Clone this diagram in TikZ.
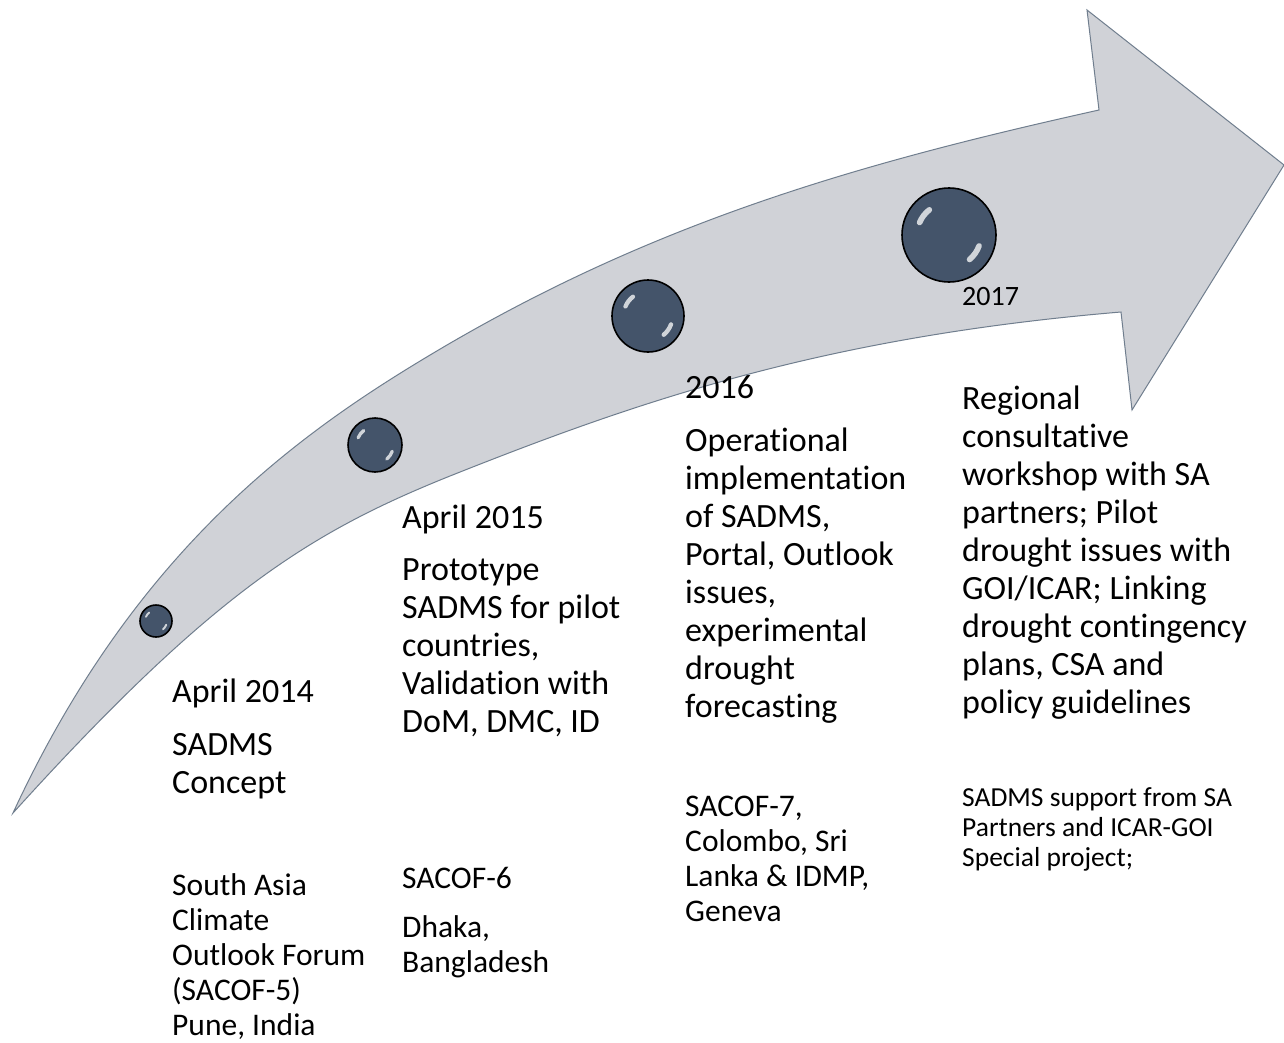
\documentclass[tikz,border=0pt]{standalone}
\usepackage{fontspec}
\setmainfont{Carlito}[Ligatures=NoCommon]

\definecolor{bandfill}{RGB}{208,210,215}
\definecolor{bandline}{RGB}{112,126,142}
\definecolor{beadcore}{RGB}{68,84,106}
\definecolor{beadrim}{RGB}{150,160,174}

\pgfdeclareradialshading{beadshade}{\pgfpoint{0bp}{0bp}}{%
  color(0bp)=(beadcore); color(36bp)=(beadcore); color(50bp)=(beadrim)}

% left-aligned block of lines whose baseline is the first line
\newcommand\lines[1]{\vtop{\halign{##\hfil\cr#1\crcr}}}

\tikzset{
  band/.style={fill=bandfill, draw=bandline, line width=1pt, line join=miter},
  bead/.style={circle, draw=black, line width=1.6pt, shade, shading=beadshade, inner sep=0pt},
  glint/.style={white, line cap=round, opacity=.75},
  big/.style={anchor=base west, inner sep=0pt, font=\fontsize{34}{38}\selectfont},
  mid/.style={anchor=base west, inner sep=0pt, font=\fontsize{31.5}{35}\selectfont},
  small/.style={anchor=base west, inner sep=0pt, font=\fontsize{27.5}{30}\selectfont},
}

% bead with two highlights: name, position, radius
\newcommand\bead[3]{%
  \node[bead, minimum size=2*#3] (#1) at #2 {};
  \draw[glint, line width=#3*0.12pt] ([shift={(203:0.68*#3)}]#1.center) arc[start angle=203, end angle=232, radius=0.68*#3];
  \draw[glint, line width=#3*0.12pt] ([shift={(20:0.68*#3)}]#1.center) arc[start angle=20, end angle=50, radius=0.68*#3];
}

\begin{document}
\begin{tikzpicture}[x=1pt, y=-1pt]
\fill[white] (0,0) rectangle (1284,1043);
\useasboundingbox (0,0) rectangle (1284,1043);

% curved arrow
\draw[band]
  (13,813) .. controls (139,541) and (309,426) .. (447,345)
           .. controls (663,219) and (865,162) .. (1099,110)
  -- (1087,10) -- (1284,165) -- (1132,410) -- (1121,312)
           .. controls (822,337) and (636,402) .. (450,476)
           .. controls (311,532) and (214,591) .. (13,813)
  -- cycle;

% milestones
\bead{m1}{(156,621)}{16}
\bead{m2}{(375,445)}{27}
\bead{m3}{(648,316)}{36}
\bead{m4}{(949,235)}{47}

% 2014
\node[big] (d1) at (172,702) {April 2014};
\node[big] (t1) at (172,755) {\lines{SADMS\cr Concept}};
\node[mid] (e1) at (172,895) {\lines{South Asia\cr Climate\cr Outlook Forum\cr (SACOF-5)\cr Pune, India}};

% 2015
\node[big] (d2) at (402,528) {April 2015};
\node[big] (t2) at (402,580) {\lines{Prototype\cr SADMS for pilot\cr countries,\cr Validation with\cr DoM, DMC, ID}};
\node[mid] (e2) at (402,888) {SACOF-6};
\node[mid] (p2) at (402,937) {\lines{Dhaka,\cr Bangladesh}};

% 2016
\node[big] (d3) at (685,398) {2016};
\node[big] (t3) at (685,451) {\lines{Operational\cr implementation\cr of SADMS,\cr Portal, Outlook\cr issues,\cr experimental\cr drought\cr forecasting}};
\node[mid] (e3) at (685,816) {\lines{SACOF-7,\cr Colombo, Sri\cr Lanka \& IDMP,\cr Geneva}};

% 2017
\node[anchor=base west, inner sep=0pt, font=\fontsize{28}{30}\selectfont] (d4) at (962,305) {2017};
\node[big] (t4) at (962,409) {\lines{Regional\cr consultative\cr workshop with SA\cr partners; Pilot\cr drought issues with\cr GOI/ICAR; Linking\cr drought contingency\cr plans, CSA and\cr policy guidelines}};
\node[small] (e4) at (962,806) {\lines{SADMS support from SA\cr Partners and ICAR-GOI\cr Special project;}};
\end{tikzpicture}
\end{document}
